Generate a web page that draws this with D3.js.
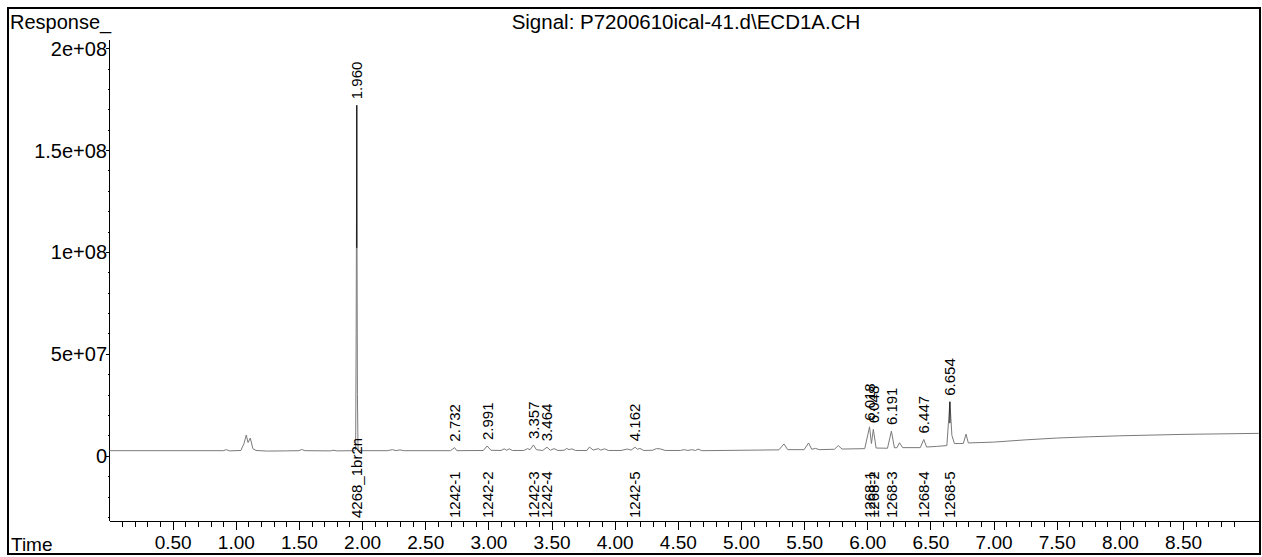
<!DOCTYPE html>
<html>
<head>
<meta charset="utf-8">
<script src="https://cdn.jsdelivr.net/npm/d3@7"></script>
<style>
  html, body { margin: 0; padding: 0; background: #fff; }
  svg { display: block; font-family: "Liberation Sans", Arial, sans-serif; }
</style>
</head>
<body>
<svg id="chart" width="1262" height="557"></svg>
<script>
// ---- data ----
const title = "Signal: P7200610ical-41.d\\ECD1A.CH";
const yAxisTitle = "Response_";
const xAxisTitle = "Time";

const yTickValues = [0, 5e7, 1e8, 1.5e8, 2e8];
const yTickLabels = ["0", "5e+07", "1e+08", "1.5e+08", "2e+08"];
const xTickValues = [0.5, 1.0, 1.5, 2.0, 2.5, 3.0, 3.5, 4.0, 4.5, 5.0, 5.5, 6.0, 6.5, 7.0, 7.5, 8.0, 8.5];
const xTickLabels = ["0.50", "1.00", "1.50", "2.00", "2.50", "3.00", "3.50", "4.00", "4.50", "5.00", "5.50", "6.00", "6.50", "7.00", "7.50", "8.00", "8.50"];

// trace (time in min, response)
const traceTime = [
  0.00, 0.90, 0.925, 0.95, 1.04, 1.065, 1.083, 1.097, 1.115, 1.135, 1.16, 1.25, 1.40, 1.50, 1.52, 1.55,
  1.75, 1.77, 1.80, 1.94, 1.949, 1.953, 1.958, 1.960, 1.963, 1.968, 2.20, 2.24, 2.27, 2.30, 2.33,
  2.70, 2.732, 2.75, 2.96, 2.99, 3.02, 3.10, 3.125, 3.145, 3.165, 3.19, 3.28, 3.31, 3.33, 3.357, 3.38,
  3.43, 3.464, 3.49, 3.52, 3.55, 3.60, 3.62, 3.64, 3.66, 3.69, 3.78, 3.80, 3.83, 3.87, 3.89, 3.92, 3.95,
  4.05, 4.10, 4.13, 4.162, 4.18, 4.20, 4.23, 4.30, 4.33, 4.36, 4.40, 4.52, 4.55, 4.58, 4.61, 4.64, 4.66, 4.69,
  5.30, 5.34, 5.37, 5.50, 5.535, 5.56, 5.59, 5.62, 5.74, 5.77, 5.80, 5.98, 6.018, 6.033, 6.048, 6.07,
  6.16, 6.191, 6.215, 6.235, 6.255, 6.28, 6.42, 6.447, 6.47, 6.55, 6.63, 6.654, 6.67, 6.69, 6.76, 6.782, 6.80,
  7.00, 7.25, 7.50, 7.75, 8.00, 8.50, 9.10
];
const traceResponse = [
  2.5e6, 2.5e6, 3.0e6, 2.4e6, 2.6e6, 6.0e6, 10.2e6, 6.5e6, 8.7e6, 3.5e6, 2.6e6, 2.3e6, 2.4e6, 2.5e6, 3.1e6, 2.5e6,
  2.4e6, 2.7e6, 2.4e6, 2.5e6, 3.0e6, 60e6, 172e6, 100e6, 30e6, 2.5e6, 2.5e6, 3.0e6, 2.5e6, 2.9e6, 2.5e6,
  2.5e6, 4.0e6, 2.5e6, 2.6e6, 4.8e6, 2.7e6, 2.6e6, 3.4e6, 2.7e6, 3.4e6, 2.6e6, 2.6e6, 3.5e6, 3.0e6, 5.3e6, 3.0e6,
  2.6e6, 4.2e6, 2.7e6, 3.5e6, 2.6e6, 2.7e6, 3.6e6, 3.0e6, 3.4e6, 2.6e6, 2.6e6, 4.3e6, 2.8e6, 3.5e6, 2.8e6, 3.4e6, 2.6e6,
  2.6e6, 3.3e6, 2.8e6, 4.2e6, 3.2e6, 3.6e6, 2.6e6, 2.7e6, 3.5e6, 3.4e6, 2.6e6, 2.6e6, 3.0e6, 2.6e6, 3.0e6, 2.6e6, 3.3e6, 2.5e6,
  2.9e6, 5.8e6, 3.0e6, 3.0e6, 6.3e6, 3.2e6, 3.6e6, 3.0e6, 3.2e6, 5.0e6, 3.3e6, 3.5e6, 14.2e6, 6.0e6, 13.0e6, 3.8e6,
  3.7e6, 12.1e6, 3.9e6, 4.0e6, 6.4e6, 4.0e6, 4.0e6, 8.0e6, 4.3e6, 4.6e6, 5.0e6, 26.5e6, 10.0e6, 6.0e6, 6.0e6, 10.6e6, 6.3e6,
  6.7e6, 7.8e6, 8.7e6, 9.3e6, 9.8e6, 10.5e6, 11.0e6
];

// peak retention-time labels
const peakTimes = [1.958, 2.732, 2.991, 3.357, 3.464, 4.162, 6.018, 6.048, 6.191, 6.447, 6.654];
const peakLabels = ["1.960", "2.732", "2.991", "3.357", "3.464", "4.162", "6.018", "6.048", "6.191", "6.447", "6.654"];
const peakApex = [172e6, 4.0e6, 4.8e6, 5.3e6, 4.2e6, 4.2e6, 14.2e6, 13.0e6, 12.1e6, 8.0e6, 26.5e6];

// compound name labels
const compoundTimes = [1.958, 2.732, 2.991, 3.357, 3.464, 4.162, 6.018, 6.048, 6.191, 6.447, 6.654];
const compoundLabels = ["4268_1br2n", "1242-1", "1242-2", "1242-3", "1242-4", "1242-5", "1268-1", "1268-2", "1268-3", "1268-4", "1268-5"];

// darker apex segments of the two tallest peaks
const apexMarkTimes = [1.958, 6.654];
const apexMarkTop = [172e6, 26.5e6];
const apexMarkBottom = [102e6, 16e6];

// ---- drawing ----
const svg = d3.select("#chart");

const x = d3.scaleLinear().domain([0, 9.1]).range([109.5, 1258.8]);
const y = d3.scaleLinear().domain([-3.2e7, 2.04e8]).range([521, 40]);

// outer frame
svg.append("rect")
  .attr("x", 8).attr("y", 8).attr("width", 1252).attr("height", 546)
  .attr("fill", "none").attr("stroke", "#000").attr("stroke-width", 2);

// title texts
svg.append("text").attr("x", 10).attr("y", 29).attr("font-size", 20).attr("fill", "#000").text(yAxisTitle);
svg.append("text").attr("x", 686).attr("y", 28.5).attr("font-size", 20.5).attr("text-anchor", "middle").attr("fill", "#000").text(title);
svg.append("text").attr("x", 11).attr("y", 550.5).attr("font-size", 19).attr("fill", "#000").text(xAxisTitle);

// axes lines
const axisG = svg.append("g").attr("stroke", "#000").attr("stroke-width", 1).attr("shape-rendering", "crispEdges");
axisG.append("line").attr("x1", x(0)).attr("x2", x(0)).attr("y1", y.range()[1]).attr("y2", y.range()[0]);
axisG.append("line").attr("x1", x(0)).attr("x2", x.range()[1]).attr("y1", y.range()[0]).attr("y2", y.range()[0]);

// y axis via d3 axis (major)
const yAxis = d3.axisLeft(y).tickValues(yTickValues).tickSize(4).tickPadding(-1.5)
  .tickFormat((d, i) => yTickLabels[i]);
const yg = svg.append("g").attr("transform", `translate(${x(0)},0)`).call(yAxis);
yg.select(".domain").remove();
yg.selectAll("line").attr("stroke", "#000").attr("shape-rendering", "crispEdges");
yg.selectAll("text").attr("font-size", 20).attr("font-family", "Liberation Sans, Arial, sans-serif").attr("fill", "#000").attr("dy", "0.35em");

// y minor ticks
const yMinor = d3.range(-3e7, 2.01e8, 1e7).filter(v => Math.abs(v % 5e7) > 1);
const ymg = svg.append("g").attr("transform", `translate(${x(0)},0)`)
  .call(d3.axisLeft(y).tickValues(yMinor).tickSize(2).tickFormat(""));
ymg.select(".domain").remove();
ymg.selectAll("line").attr("stroke", "#000").attr("shape-rendering", "crispEdges");

// x axis major
const xAxis = d3.axisBottom(x).tickValues(xTickValues).tickSize(9).tickPadding(5)
  .tickFormat((d, i) => xTickLabels[i]);
const xg = svg.append("g").attr("transform", `translate(0,${y.range()[0]})`).call(xAxis);
xg.select(".domain").remove();
xg.selectAll("line").attr("stroke", "#000").attr("shape-rendering", "crispEdges");
xg.selectAll("text").attr("font-size", 19).attr("font-family", "Liberation Sans, Arial, sans-serif").attr("fill", "#000").attr("dy", "0.72em");

// x minor
const xMinor = d3.range(1, 91).map(k => k / 10).filter(v => Math.abs((v * 10) % 5) > 0.01);
const xmg = svg.append("g").attr("transform", `translate(0,${y.range()[0]})`)
  .call(d3.axisBottom(x).tickValues(xMinor).tickSize(6).tickFormat(""));
xmg.select(".domain").remove();
xmg.selectAll("line").attr("stroke", "#000").attr("shape-rendering", "crispEdges");

// trace
const pts = traceTime.map((t, i) => [t, traceResponse[i]]);
svg.append("path")
  .attr("d", d3.line().x(d => x(d[0])).y(d => y(d[1]))(pts))
  .attr("fill", "none").attr("stroke", "#7a7a7a").attr("stroke-width", 1);

// apex dark segments
svg.append("g").selectAll("line").data(apexMarkTimes).join("line")
  .attr("x1", d => x(d)).attr("x2", d => x(d))
  .attr("y1", (d, i) => y(apexMarkTop[i])).attr("y2", (d, i) => y(apexMarkBottom[i]))
  .attr("stroke", "#000").attr("stroke-width", 1);

// peak labels
svg.append("g").selectAll("text").data(peakTimes).join("text")
  .attr("transform", (d, i) => `translate(${x(d)},${y(peakApex[i]) - 6}) rotate(-90)`)
  .attr("dy", "0.35em")
  .attr("font-size", 15).attr("fill", "#000")
  .text((d, i) => peakLabels[i]);

// compound labels
svg.append("g").selectAll("text").data(compoundTimes).join("text")
  .attr("transform", d => `translate(${x(d)},${y.range()[0] - 3}) rotate(-90)`)
  .attr("dy", "0.35em")
  .attr("font-size", 15).attr("fill", "#000")
  .text((d, i) => compoundLabels[i]);
</script>
</body>
</html>
